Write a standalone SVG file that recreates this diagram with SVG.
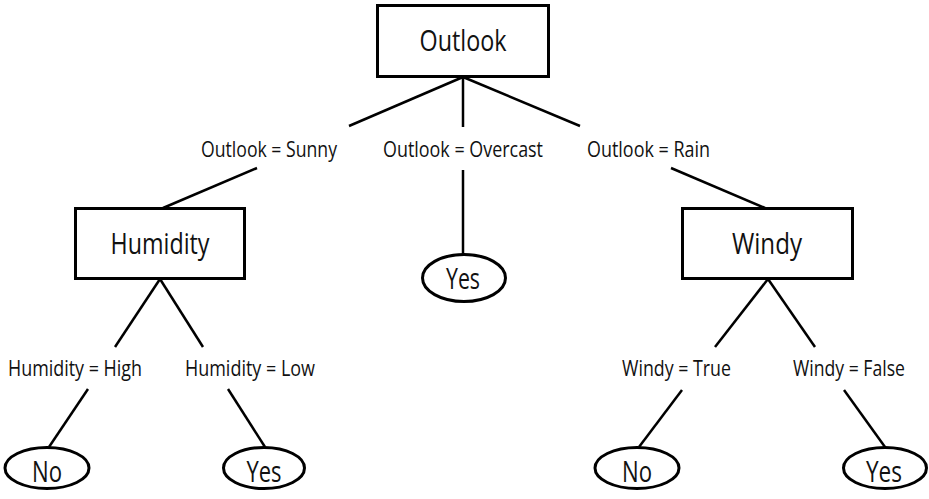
<svg xmlns="http://www.w3.org/2000/svg" width="929" height="499" viewBox="0 0 929 499">
  <style>
    .box { fill: #fff; stroke: #000; stroke-width: 3; }
    .leaf { fill: #fff; stroke: #000; stroke-width: 3; }
    .edge { stroke: #000; stroke-width: 2.5; fill: none; }
    .name { font-family: "Open Sans", "Noto Sans", sans-serif; font-size: 29px; fill: #111; text-anchor: middle; }
    .cond { font-family: "Open Sans", "Noto Sans", sans-serif; font-size: 21px; fill: #111; }
  </style>
  <rect width="929" height="499" fill="#fff"/>

  <!-- branches (drawn first; labels sit in the gaps) -->
  <g id="connectors">
    <line class="edge" x1="463" y1="77" x2="349" y2="126"/>
    <line class="edge" x1="257" y1="168" x2="163" y2="208"/>
    <line class="edge" x1="463" y1="77" x2="463" y2="127"/>
    <line class="edge" x1="463" y1="170" x2="463" y2="254"/>
    <line class="edge" x1="463" y1="77" x2="580" y2="126"/>
    <line class="edge" x1="671" y1="168" x2="765" y2="208"/>

    <line class="edge" x1="160" y1="279" x2="115" y2="347"/>
    <line class="edge" x1="160" y1="279" x2="203" y2="347"/>
    <line class="edge" x1="88" y1="389" x2="49" y2="447"/>
    <line class="edge" x1="228" y1="389" x2="265" y2="447"/>

    <line class="edge" x1="768" y1="279" x2="715" y2="347"/>
    <line class="edge" x1="768" y1="279" x2="815" y2="347"/>
    <line class="edge" x1="682" y1="390" x2="639" y2="447"/>
    <line class="edge" x1="844" y1="390" x2="885" y2="447"/>
  </g>

  <!-- branch conditions -->
  <g id="conditions">
    <text class="cond" x="201" y="157" textLength="136" lengthAdjust="spacingAndGlyphs">Outlook = Sunny</text>
    <text class="cond" x="383" y="157" textLength="160" lengthAdjust="spacingAndGlyphs">Outlook = Overcast</text>
    <text class="cond" x="587" y="157" textLength="123" lengthAdjust="spacingAndGlyphs">Outlook = Rain</text>
    <text class="cond" x="8" y="376" textLength="134" lengthAdjust="spacingAndGlyphs">Humidity = High</text>
    <text class="cond" x="185" y="376" textLength="130" lengthAdjust="spacingAndGlyphs">Humidity = Low</text>
    <text class="cond" x="622" y="376" textLength="109" lengthAdjust="spacingAndGlyphs">Windy = True</text>
    <text class="cond" x="793" y="376" textLength="112" lengthAdjust="spacingAndGlyphs">Windy = False</text>
  </g>

  <!-- decision nodes -->
  <g id="outlook">
    <rect class="box" x="377.5" y="5.5" width="171" height="71"/>
    <text class="name" x="463" y="51" textLength="87" lengthAdjust="spacingAndGlyphs">Outlook</text>
  </g>
  <g id="humidity">
    <rect class="box" x="75.5" y="208.5" width="169" height="70"/>
    <text class="name" x="160" y="254" textLength="99" lengthAdjust="spacingAndGlyphs">Humidity</text>
  </g>
  <g id="windy">
    <rect class="box" x="682.5" y="208.5" width="170" height="70"/>
    <text class="name" x="767" y="254" textLength="70" lengthAdjust="spacingAndGlyphs">Windy</text>
  </g>

  <!-- leaves -->
  <g id="overcast-yes">
    <ellipse class="leaf" cx="464" cy="278" rx="41.5" ry="23.5"/>
    <text class="name" x="463" y="289" textLength="34" lengthAdjust="spacingAndGlyphs">Yes</text>
  </g>
  <g id="high-no">
    <ellipse class="leaf" cx="47" cy="468" rx="42" ry="20.5"/>
    <text class="name" x="47" y="482" textLength="30" lengthAdjust="spacingAndGlyphs">No</text>
  </g>
  <g id="low-yes">
    <ellipse class="leaf" cx="264" cy="468" rx="40.5" ry="20.5"/>
    <text class="name" x="264" y="482" textLength="35" lengthAdjust="spacingAndGlyphs">Yes</text>
  </g>
  <g id="true-no">
    <ellipse class="leaf" cx="637" cy="468" rx="42" ry="20.5"/>
    <text class="name" x="637" y="482" textLength="30" lengthAdjust="spacingAndGlyphs">No</text>
  </g>
  <g id="false-yes">
    <ellipse class="leaf" cx="885" cy="468" rx="41.5" ry="20.5"/>
    <text class="name" x="884" y="482" textLength="36" lengthAdjust="spacingAndGlyphs">Yes</text>
  </g>
</svg>
